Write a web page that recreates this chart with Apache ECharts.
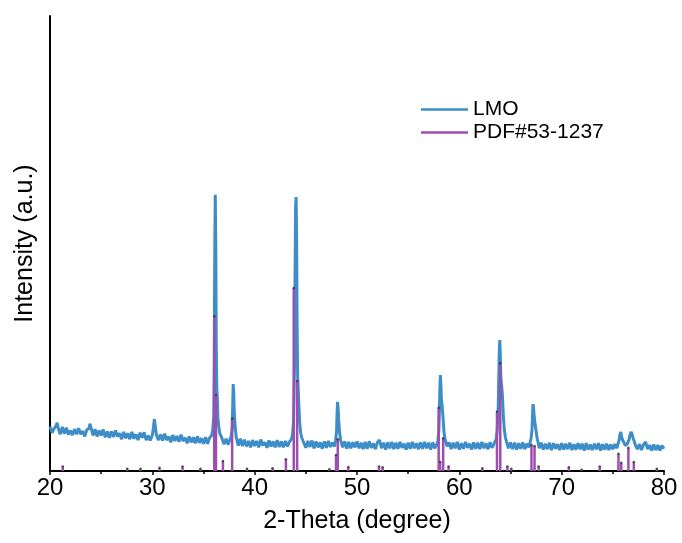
<!DOCTYPE html>
<html>
<head>
<meta charset="utf-8">
<script src="https://cdn.jsdelivr.net/npm/echarts@6/dist/echarts.min.js"></script>
<style>
html,body{margin:0;padding:0;background:#fff;}
#chart{width:682px;height:543px;}
</style>
</head>
<body>
<div id="chart"></div>
<script>
// LMO measured pattern: [2-theta, intensity (a.u.)]
const lmoPattern = [
[20.0,9.8],[20.2,8.4],[20.4,9.3],[20.6,9.9],[20.7,10.6],[20.8,9.4],[21.0,8.1],[21.2,9.7],[21.4,8.2],[21.6,9.5],[21.8,8.0],
[22.0,8.9],[22.2,7.9],[22.4,9.2],[22.6,8.1],[22.8,9.4],[23.0,8.1],[23.2,8.8],[23.4,7.6],[23.6,9.1],[23.8,9.3],[23.9,10.4],
[24.0,9.6],[24.2,7.8],[24.4,9.2],[24.6,7.6],[24.8,8.9],[25.0,7.8],[25.2,9.1],[25.4,7.4],[25.6,8.7],[25.8,7.3],
[26.0,8.7],[26.2,7.5],[26.4,8.9],[26.6,7.6],[26.8,8.3],[27.0,7.0],[27.2,8.6],[27.4,7.2],[27.6,8.3],[27.8,7.0],
[28.0,8.6],[28.2,7.1],[28.4,8.1],[28.6,6.8],[28.8,8.4],[29.0,7.3],[29.2,8.5],[29.4,6.8],[29.6,7.8],[29.8,6.7],
[30.0,7.9],[30.1,9.4],[30.2,11.4],[30.3,9.6],[30.4,7.9],[30.6,6.8],[30.8,8.0],[31.0,6.7],[31.2,8.2],[31.4,6.8],[31.6,7.6],[31.8,6.3],
[32.0,7.9],[32.2,6.6],[32.4,7.7],[32.6,6.4],[32.8,8.0],[33.0,6.6],[33.2,7.3],[33.4,6.1],[33.6,7.6],[33.8,6.3],
[34.0,7.4],[34.2,6.1],[34.4,7.6],[34.6,6.2],[34.8,7.2],[35.0,6.0],[35.2,7.4],[35.4,6.0],[35.6,7.3],[35.8,7.8],[35.9,9.0],
[36.0,12],[36.05,25],[36.1,48],[36.15,60.7],[36.2,50],[36.25,27],[36.3,18],[36.35,16],[36.4,12],[36.5,9.5],[36.6,8.2],[36.8,7.2],
[37.0,5.9],[37.2,7.1],[37.4,5.8],[37.6,7.0],[37.7,7.6],[37.8,9.5],[37.85,14],[37.9,19.1],[37.95,17.5],[38.0,13],[38.1,9.5],[38.2,7.4],
[38.4,5.6],[38.6,7.1],[38.8,5.5],[39.0,6.9],[39.2,5.4],[39.4,6.6],[39.6,5.2],[39.8,6.8],
[40.0,5.5],[40.2,6.6],[40.4,5.2],[40.6,6.9],[40.8,5.6],[41.0,6.3],[41.2,5.1],[41.4,6.7],[41.6,5.4],[41.8,6.5],
[42.0,5.2],[42.2,6.8],[42.4,5.3],[42.6,6.5],[42.8,5.2],[43.0,6.6],[43.2,5.4],[43.4,6.4],[43.6,7.0],[43.7,8.0],[43.8,11],
[43.9,24],[43.95,44],[44.0,58],[44.05,60.2],[44.1,51],[44.15,32],[44.2,21],[44.3,15.5],[44.4,10.5],[44.5,8.3],[44.6,7.3],[44.8,6.2],
[45.0,5.1],[45.2,6.6],[45.4,5.3],[45.6,6.7],[45.8,5.0],[46.0,6.5],[46.2,5.2],[46.4,6.3],[46.6,4.9],[46.8,6.5],
[47.0,5.1],[47.2,6.6],[47.4,5.3],[47.6,6.2],[47.8,5.4],[47.9,6.6],[48.0,8.6],[48.05,12.5],[48.1,15.2],[48.15,14],[48.2,11.5],
[48.3,8.4],[48.4,6.8],[48.6,5.2],[48.8,6.5],[49.0,4.9],[49.2,6.4],[49.4,5.0],[49.6,6.3],[49.8,5.2],
[50.0,6.5],[50.2,5.0],[50.4,6.2],[50.6,4.8],[50.8,6.4],[51.0,4.9],[51.2,6.5],[51.4,5.1],[51.6,6.1],[51.8,4.8],
[52.0,6.3],[52.2,6.8],[52.4,5.0],[52.6,6.2],[52.8,4.7],[53.0,6.3],[53.2,5.0],[53.4,6.4],[53.6,4.8],[53.8,6.2],
[54.0,4.9],[54.2,6.4],[54.4,5.1],[54.6,6.0],[54.8,4.7],[55.0,6.2],[55.2,4.9],[55.4,6.4],[55.6,5.0],[55.8,6.1],
[56.0,4.8],[56.2,6.3],[56.4,4.9],[56.6,6.4],[56.8,5.0],[57.0,6.2],[57.2,4.7],[57.4,6.3],[57.6,5.0],[57.8,5.9],[57.9,6.5],
[58.0,9.0],[58.05,13],[58.1,18],[58.15,21.1],[58.2,19],[58.25,15.5],[58.3,14.8],[58.35,15],[58.4,12],[58.5,8.6],[58.6,7.0],[58.8,5.4],
[59.0,6.3],[59.2,4.8],[59.4,6.2],[59.6,5.0],[59.8,6.4],[60.0,4.7],[60.2,6.1],[60.4,4.9],[60.6,6.4],[60.8,5.1],
[61.0,6.0],[61.2,4.7],[61.4,6.3],[61.6,4.9],[61.8,6.2],[62.0,4.8],[62.2,6.4],[62.4,5.0],[62.6,6.1],[62.8,4.8],
[63.0,6.3],[63.2,5.1],[63.4,6.0],[63.5,6.3],[63.6,7.0],[63.7,9.0],[63.8,14],[63.85,20],[63.9,26],[63.95,28.8],
[64.0,26],[64.05,21],[64.1,19.5],[64.15,19.8],[64.2,17],[64.3,12],[64.4,9],[64.5,7.4],[64.6,6.5],[64.8,5.0],
[65.0,6.3],[65.2,4.8],[65.4,6.2],[65.6,4.7],[65.8,6.1],[66.0,4.9],[66.2,6.3],[66.4,4.8],[66.6,6.0],[66.8,5.2],[66.9,6.2],
[67.0,7.0],[67.1,9.0],[67.15,12],[67.2,14.7],[67.25,14],[67.3,12.5],[67.35,11.2],[67.4,11.0],[67.5,8.8],[67.6,7.2],[67.7,6.3],[67.8,5.0],
[68.0,6.2],[68.2,4.7],[68.4,6.0],[68.6,4.8],[68.8,6.2],[69.0,4.6],[69.2,6.1],[69.4,4.9],[69.6,5.9],[69.8,4.6],
[70.0,6.1],[70.2,4.7],[70.4,6.0],[70.6,4.8],[70.8,6.2],[71.0,4.6],[71.2,5.9],[71.4,4.7],[71.6,6.1],[71.8,4.8],
[72.0,6.0],[72.2,4.5],[72.4,6.1],[72.6,4.7],[72.8,5.8],[73.0,4.6],[73.2,6.0],[73.4,4.8],[73.6,6.1],[73.8,4.5],
[74.0,5.9],[74.2,4.7],[74.4,6.0],[74.6,4.6],[74.8,5.8],[75.0,4.8],[75.2,5.9],[75.4,5.0],[75.5,5.9],[75.6,6.6],[75.7,8.0],
[75.78,8.6],[75.85,7.6],[75.95,6.8],[76.0,6.9],[76.1,6.2],[76.2,5.6],[76.3,5.2],[76.4,5.9],[76.5,6.3],[76.6,7.0],[76.7,8.1],
[76.8,8.6],[76.9,7.9],[77.0,7.1],[77.1,6.5],[77.2,5.7],[77.4,4.8],[77.6,5.9],[77.8,4.6],[78.0,5.8],[78.2,6.4],[78.4,4.8],
[78.6,5.7],[78.8,4.5],[79.0,5.8],[79.2,4.6],[79.4,5.7],[79.6,4.5],[79.8,5.6],[80.0,4.9]
];

// Reference card PDF#53-1237 stick positions and heights
const pdfAngle = [21.25,27.55,28.85,30.7,32.95,34.7,36.05,36.22,36.9,37.8,39.25,41.75,43.05,43.82,44.15,47.3,47.95,48.12,49.15,52.15,52.5,
  57.98,58.12,58.42,58.95,62.25,63.68,64.0,64.7,65.08,67.05,67.35,67.75,70.7,71.95,73.72,75.55,75.82,76.52,77.05,79.3];
const pdfIntensity = [1.0,0.5,0.5,0.7,1.0,0.5,34.0,16.7,2.2,11.5,0.5,0.6,2.6,40.2,19.8,0.4,3.5,7.0,0.9,1.0,0.8,
  13.9,2.0,7.2,1.0,0.6,13.0,23.7,1.0,0.5,5.7,5.5,1.0,0.8,0.3,1.0,3.8,1.8,5.1,2.0,0.5];

const xTicks = {min: 20, max: 80, interval: 10};
const seriesNames = ['LMO', 'PDF#53-1237'];

const pdfData = pdfAngle.map((a, i) => [a, pdfIntensity[i]]);

const FONT = '"Liberation Sans", Arial, sans-serif';
const chart = echarts.init(document.getElementById('chart'), null, {renderer: 'canvas'});
chart.setOption({
  animation: false,
  backgroundColor: '#fff',
  grid: {left: 50, right: 18, top: 16, bottom: 72, containLabel: false},
  legend: {
    orient: 'vertical',
    left: 421,
    top: 99,
    padding: 0,
    itemWidth: 47,
    itemHeight: 2.5,
    itemGap: 2,
    textStyle: {fontFamily: FONT, fontSize: 21, color: '#000'},
    data: [
      {name: seriesNames[0], icon: 'rect', itemStyle: {color: '#3C8DC8'}},
      {name: seriesNames[1], icon: 'rect', itemStyle: {color: '#9D4EAF'}}
    ]
  },
  xAxis: {
    type: 'value',
    min: xTicks.min, max: xTicks.max, interval: xTicks.interval,
    name: '2-Theta (degree)',
    nameLocation: 'middle',
    nameGap: 38,
    nameTextStyle: {fontFamily: FONT, fontSize: 25, color: '#000'},
    axisLine: {show: true, onZero: false, lineStyle: {color: '#000', width: 2}},
    axisTick: {show: true, inside: false, length: 4, lineStyle: {color: '#000', width: 1.5}},
    minorTick: {show: true, splitNumber: 2, length: 3, lineStyle: {color: '#000', width: 1.5}},
    axisLabel: {fontFamily: FONT, fontSize: 24, color: '#000', margin: 5},
    splitLine: {show: false}
  },
  yAxis: {
    type: 'value',
    min: 0, max: 100,
    name: 'Intensity (a.u.)',
    nameLocation: 'middle',
    nameGap: 12,
    nameTextStyle: {fontFamily: FONT, fontSize: 25, color: '#000'},
    axisLine: {show: true, lineStyle: {color: '#000', width: 2}},
    axisTick: {show: false},
    axisLabel: {show: false},
    splitLine: {show: false}
  },
  series: [
    {
      name: seriesNames[0],
      type: 'line',
      data: lmoPattern,
      showSymbol: false,
      symbol: 'none',
      lineStyle: {color: '#3C8DC8', width: 3},
      itemStyle: {color: '#3C8DC8'},
      z: 2
    },
    {
      name: seriesNames[1],
      type: 'bar',
      data: pdfData,
      barWidth: 2.5,
      itemStyle: {color: '#9D4EAF'},
      z: 3
    },
    {
      name: 'pdfTop',
      type: 'scatter',
      data: pdfData,
      symbolSize: 2.5,
      itemStyle: {color: '#333'},
      z: 4,
      silent: true
    }
  ]
});
</script>
</body>
</html>
